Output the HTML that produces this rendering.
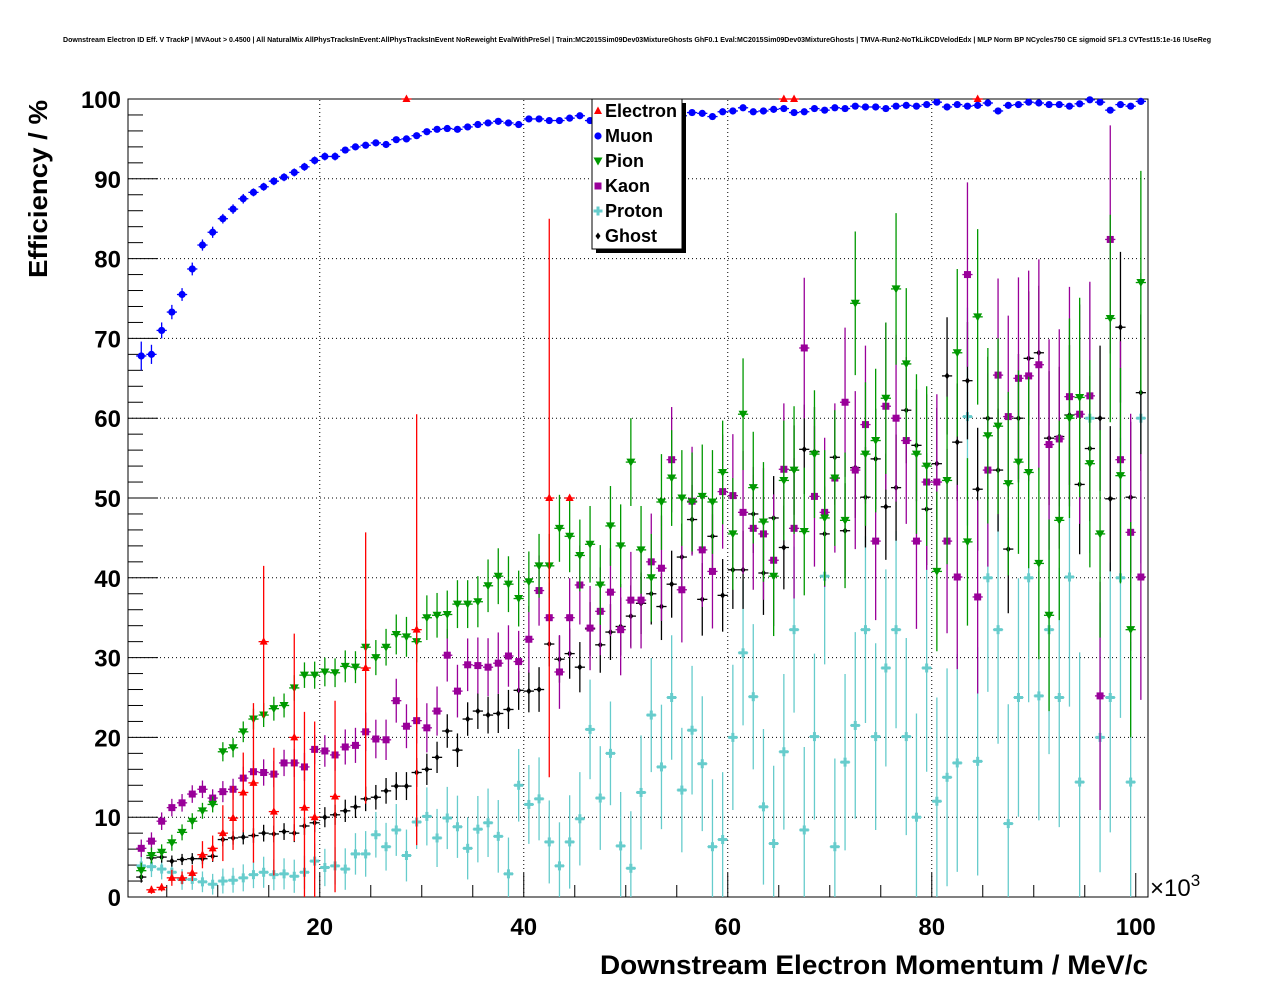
<!DOCTYPE html>
<html><head><meta charset="utf-8"><style>
body{margin:0;background:#fff;}
svg{display:block;font-family:"Liberation Sans",Arial,sans-serif;}
</style></head><body>
<svg id="c" width="1276" height="996" viewBox="0 0 1276 996">
<rect width="1276" height="996" fill="#fff"/>
<text x="637" y="42" font-size="7.4" font-weight="bold" text-anchor="middle" textLength="1148" lengthAdjust="spacingAndGlyphs">Downstream Electron ID Eff. V TrackP | MVAout &gt; 0.4500 | All NaturalMix AllPhysTracksInEvent:AllPhysTracksInEvent NoReweight EvalWithPreSel | Train:MC2015Sim09Dev03MixtureGhosts GhF0.1 Eval:MC2015Sim09Dev03MixtureGhosts | TMVA-Run2-NoTkLikCDVelodEdx | MLP Norm BP NCycles750 CE sigmoid SF1.3 CVTest15:1e-16 !UseReg</text>
<g id="grid"></g>
<g id="axes"></g>
<g id="marks"></g>
<text x="600" y="974" font-size="27" font-weight="bold" textLength="548" lengthAdjust="spacingAndGlyphs">Downstream Electron Momentum / MeV/c</text>
<text transform="translate(47,100) rotate(-90)" font-size="26" font-weight="bold" text-anchor="end" textLength="178" lengthAdjust="spacingAndGlyphs">Efficiency / %</text>
<text x="1150" y="896" font-size="24">×10<tspan font-size="17" dy="-10">3</tspan></text>
<g id="legend"></g>
</svg>
<script>
const xTicks=[20,40,60,80,100];
const yTicks=[0,10,20,30,40,50,60,70,80,90,100];
const binStart=2.5;
const muon=[67.8,68,71,73.3,75.5,78.7,81.7,83.3,85,86.2,87.5,88.3,89,89.7,90.2,90.8,91.5,92.3,92.8,92.8,93.6,94,94.2,94.5,94.3,94.9,95,95.4,95.9,96.2,96.3,96.2,96.5,96.8,97,97.2,97,96.8,97.5,97.5,97.3,97.3,97.6,97.9,97.3,97.5,97.2,97.8,97.9,98.1,98.2,97.9,98,97.9,98.3,98.2,97.8,98.4,98.5,98.9,98.4,98.5,98.7,98.8,98.3,98.4,98.8,98.6,98.9,98.8,99.1,99,99,98.8,99.1,99.2,99.1,99.3,99.6,99,99.3,99.1,99.2,99.5,98.5,99.2,99.3,99.6,99.5,99.3,99.3,99.1,99.4,99.9,99.6,98.6,99.3,99.1,99.7];
const muonErr=[1.8,1.2,1,0.9,0.8,0.8,0.7,0.7,0.6,0.6,0.6,0.5,0.5,0.5,0.5,0.5,0.5,0.5,0.5,0.5,0.4,0.4,0.4,0.4,0.4,0.4,0.4,0.4,0.4,0.4,0.4,0.4,0.4,0.4,0.4,0.4,0.4,0.4,0.4,0.4,0.4,0.4,0.4,0.4,0.4,0.4,0.4,0.4,0.4,0.4,0.4,0.4,0.4,0.4,0.4,0.4,0.4,0.4,0.4,0.4,0.4,0.4,0.4,0.4,0.4,0.4,0.4,0.4,0.4,0.4,0.4,0.4,0.4,0.4,0.4,0.4,0.4,0.4,0.4,0.4,0.4,0.4,0.4,0.4,0.4,0.4,0.4,0.4,0.4,0.4,0.4,0.4,0.4,0.4,0.4,0.4,0.4,0.4,0.4];
const pion=[3.3,5.2,5.6,6.8,8.1,9.5,10.8,11.6,18.2,18.7,20.7,22.3,22.8,23.6,24,26.2,27.8,27.8,28.2,28.1,28.9,28.8,31.3,30,31.3,32.9,32.6,32,35,35.3,35.4,36.7,36.7,37,39,40.2,39.2,37.4,39.5,41.5,41.5,46.2,45.2,42.8,44.2,39.1,46.5,44,54.5,43.5,40,49.5,52.5,50,49.5,50.2,49.5,53.2,45.5,60.5,51.3,47,40.2,52.2,53.5,45.8,55.5,47.5,52.5,47.2,74.4,55.5,57.2,62.5,76.2,66.8,55.5,54,40.8,52.2,68.2,44.5,72.7,57.8,59,51.8,54.5,53.2,41.8,35.3,47.2,60,62.6,54.3,45.5,72.5,52.8,33.5,77];
const kaon=[6.1,7,9.5,11.2,11.8,12.9,13.5,12.4,13.2,13.5,14.9,15.7,15.6,15.4,16.8,16.8,16.3,18.5,18.3,17.8,18.8,19,20.7,19.8,19.7,24.6,21.4,22.1,21.2,23.3,30.3,25.8,29.1,29,28.8,29.3,30.2,29.5,32.3,38.4,35,28.2,35,39.1,33.7,35.8,38.2,33.5,37.2,37.2,42,41.2,54.8,38.5,49.6,43.5,40.8,50.8,50.3,48.2,46.2,45.5,42.2,53.6,46.2,68.8,50.2,48.2,52.5,62,53.5,59.2,44.6,61.5,60,57.2,44.6,52,52,44.6,40.1,78,37.6,53.5,65.4,60.2,65,65.3,66.7,56.7,57.4,62.7,60.5,62.8,25.2,82.4,54.8,45.7,40.1];
const ghost=[2.5,4.9,5,4.5,4.7,4.8,4.8,5.1,7.2,7.4,7.5,7.7,8,7.9,8.2,8,8.9,9.3,10,10.3,10.8,11.3,12.3,12.5,13.3,13.9,13.9,15.6,16,17.5,20.8,18.4,22.3,23.3,22.8,23,23.5,25.9,25.8,26,31.7,29.8,30.5,28.8,33.6,31.6,33.2,33.9,35.2,36.8,38,36.4,39.2,42.6,47.3,37.3,45.2,37.8,41,41,48,40.6,47.5,43.8,53.5,56.1,55.8,45.5,55.1,45.9,53.8,50.1,54.9,48.9,51.3,61,56.6,48.6,54.3,65.3,57,64.7,51.1,60,53.5,43.6,60,67.5,68.2,57.5,57.7,60.4,51.7,56.2,60,49.9,71.4,50.1,63.2];
const proton=[3.9,3.8,3.5,3.1,2.2,2.2,1.9,1.6,2,2.1,2.4,2.8,3.1,2.8,2.9,2.6,3.1,4.5,3.7,3.9,3.5,5.4,5.4,7.8,6.3,8.4,5.2,9.4,10.1,7.4,9.9,8.8,6.1,8.5,9.3,7.6,2.9,14,11.6,12.3,6.9,3.9,6.9,9.8,21,12.4,18,6.4,3.6,13.1,22.8,16.3,25,13.4,20.9,16.7,6.3,7.2,20,30.6,25.1,11.3,6.7,18.2,33.5,8.4,20.1,40.2,6.3,16.9,21.5,33.5,20.1,28.7,33.5,20.1,10,28.7,12,15,16.8,60.2,17,40,33.5,9.2,25,40,25.2,33.5,25,40.1,14.4,60,20,25,40,14.4,60];
const errBase=[1,1,1,1,1,1,1,1,1.2,1.2,1.3,1.3,1.5,1.5,1.5,1.6,1.6,1.7,1.8,1.8,2,2,2.2,2.2,2.3,2.5,2.5,2.6,2.8,2.8,3,3,3,3.2,3.3,3.5,3.5,3.5,3.8,4,4,4.2,4.5,4.5,4.8,5,5,5.2,5.5,5.5,5.5,6,6,6,6.2,6.5,6.5,6.5,7,7,7,7.5,7.5,7.5,8,8,8,8.5,8.5,8.5,9,9,9,9.5,9.5,9.5,10,10,10,10.5,10.5,10.5,11,11,11,11.5,11.5,12,12,12,12.5,12.5,12.5,13,13,13,13.5,13.5,14];
const elecBins=[1,2,3,4,5,6,7,8,9,10,11,12,13,15,16,17,19,22,26,27,40,42,63,64,82];
const elecVals=[0.9,1.2,2.4,2.4,3,5.3,6.1,8,9.9,13.1,14.3,32,10.7,20,11.2,10,12.6,28.7,100,33.5,50,50,100,100,100];
const elecErr=[0.5,0.5,1,0.8,1,1.7,1.6,3.5,4,5,10,9.5,8,13,12,12,12,17,0,27,35,0,0,0,0];

const X0=128,X1=1148,Y0=897,Y1=99,XMIN=1.2,XMAX=101.2;
const xs=v=>X0+(v-XMIN)/(XMAX-XMIN)*(X1-X0);
const ys=v=>Y0-v/100*(Y0-Y1);
const NS="http://www.w3.org/2000/svg";
function mk(tag,attrs,parent){const e=document.createElementNS(NS,tag);for(const k in attrs)e.setAttribute(k,attrs[k]);parent.appendChild(e);return e;}
const grid=document.getElementById('grid'),axes=document.getElementById('axes'),marks=document.getElementById('marks');
xTicks.forEach(t=>{if(t<100){const l=mk('line',{x1:xs(t),x2:xs(t),y1:Y0,y2:Y1,stroke:'#000','stroke-width':1,'stroke-dasharray':'1,3'},grid);

}});
yTicks.forEach(t=>{if(t>0&&t<100){const l=mk('line',{x1:X0,x2:X1,y1:ys(t),y2:ys(t),stroke:'#000','stroke-width':1,'stroke-dasharray':'1,3'},grid);

}});
const frame=mk('rect',{x:X0,y:Y1,width:X1-X0,height:Y0-Y1,fill:'none',stroke:'#000','stroke-width':1},axes);


for(let v=5;v<=100;v+=5){const major=v%20===0;mk('line',{x1:xs(v),x2:xs(v),y1:Y0,y2:Y0-(major?24:12),stroke:'#000'},axes);}
for(let v=0;v<=100;v+=2){const major=v%10===0;mk('line',{x1:X0,x2:X0+(major?30:15),y1:ys(v),y2:ys(v),stroke:'#000'},axes);}
xTicks.forEach(t=>{const tx=mk('text',{x:xs(t),y:935,'font-size':24,'font-weight':'bold','text-anchor':'middle'},axes);tx.textContent=t;

});
yTicks.forEach(t=>{const tx=mk('text',{x:121,y:ys(t)+9,'font-size':24,'font-weight':'bold','text-anchor':'end'},axes);tx.textContent=t;

});

function marker(g,shape,cx,cy,col){
  if(shape==='tri')mk('polygon',{points:`${cx},${cy-4.5} ${cx-4},${cy+3} ${cx+4},${cy+3}`,fill:col},g);
  else if(shape==='tridn')mk('polygon',{points:`${cx},${cy+4.5} ${cx-4.5},${cy-3.5} ${cx+4.5},${cy-3.5}`,fill:col},g);
  else if(shape==='circ')mk('circle',{cx:cx,cy:cy,r:3.6,fill:col},g);
  else if(shape==='sq')mk('rect',{x:cx-3.5,y:cy-3.5,width:7,height:7,fill:col},g);
  else if(shape==='dia')mk('polygon',{points:`${cx},${cy-3.5} ${cx+2.5},${cy} ${cx},${cy+3.5} ${cx-2.5},${cy}`,fill:col},g);
  else if(shape==='cross'){mk('rect',{x:cx-4.5,y:cy-1.5,width:9,height:3,fill:col},g);mk('rect',{x:cx-1.5,y:cy-4.5,width:3,height:9,fill:col},g);}
}
function series(name,bins,vals,errs,col,shape){
  const g=mk('g',{},marks);
  
  
  vals.forEach((v,i)=>{
    const b=bins?bins[i]:i;const c=binStart+b;
    const cx=xs(c),cy=ys(v),e=errs[i];
    const p=mk('g',{},g);
    
    
    mk('line',{x1:xs(c-0.5),x2:xs(c+0.5),y1:cy,y2:cy,stroke:col,'stroke-width':1.3},p);
    if(e>0)mk('line',{x1:cx,x2:cx,y1:ys(Math.min(100,v+e)),y2:ys(Math.max(0,v-e)),stroke:col,'stroke-width':1.3},p);
    marker(p,shape,cx,cy,col);
  });
}
const scale=(arr,k)=>arr.map(v=>v*k);
series('proton',null,proton,scale(errBase,1.3),'#66cccc','cross');
series('ghost',null,ghost,scale(errBase,0.7),'#000000','dia');
series('kaon',null,kaon,scale(errBase,1.1),'#990099','sq');
series('pion',null,pion,errBase,'#009900','tridn');
series('electron',elecBins,elecVals,elecErr,'#ff0000','tri');
series('muon',null,muon,muonErr,'#0000ff','circ');

const leg=document.getElementById('legend');
mk('rect',{x:596,y:103,width:90,height:150,fill:'#000'},leg);
mk('rect',{x:592,y:99,width:90,height:150,fill:'#fff',stroke:'#000'},leg);
const legNames=['Electron','Muon','Pion','Kaon','Proton','Ghost'];
const legCols=['#ff0000','#0000ff','#009900','#990099','#66cccc','#000000'];
const legShapes=['tri','circ','tridn','sq','cross','dia'];
legNames.forEach((n,i)=>{const y=111+i*25;const g=mk('g',{},leg);


marker(g,legShapes[i],598,y,legCols[i]);
const t=mk('text',{x:605,y:y+6,'font-size':18,'font-weight':'bold'},g);t.textContent=n;});
</script>
</body></html>
